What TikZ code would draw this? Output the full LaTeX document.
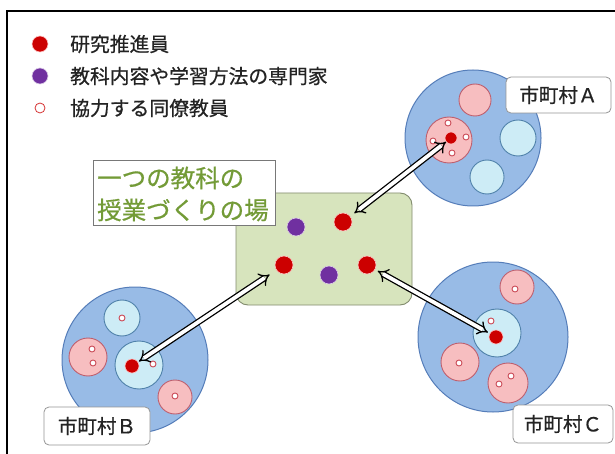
\documentclass[tikz,border=0pt]{standalone}
\usepackage{fontspec}
\setmainfont{Noto Sans CJK JP}[FakeBold=0.6]
\usetikzlibrary{arrows.meta}
\definecolor{bigfill}{RGB}{152,187,230}
\definecolor{bigline}{RGB}{85,125,185}
\definecolor{pinkfill}{RGB}{247,190,192}
\definecolor{pinkline}{RGB}{190,95,110}
\definecolor{cyanfill}{RGB}{205,236,246}
\definecolor{cyanline}{RGB}{80,130,170}
\definecolor{reddot}{RGB}{204,0,0}
\definecolor{purpdot}{RGB}{112,48,160}
\definecolor{greenfill}{RGB}{215,228,189}
\definecolor{greenline}{RGB}{130,140,110}
\definecolor{greentext}{RGB}{115,155,55}
\definecolor{labline}{RGB}{150,150,150}
\definecolor{txt}{RGB}{35,35,35}
\tikzset{
  bigc/.style={circle, draw=bigline, fill=bigfill, line width=1pt, inner sep=0pt},
  pinkc/.style={circle, draw=pinkline, fill=pinkfill, line width=0.9pt, inner sep=0pt},
  cyanc/.style={circle, draw=cyanline, fill=cyanfill, line width=0.9pt, inner sep=0pt},
  sm/.style={circle, draw=pinkline!80!red, fill=white, line width=0.9pt, inner sep=0pt, minimum size=6pt},
  rdot/.style={circle, fill=reddot, draw=red!25, line width=0.6pt, inner sep=0pt, minimum size=#1},
  pdot/.style={circle, fill=purpdot, draw=purpdot!25, line width=0.6pt, inner sep=0pt, minimum size=18pt},
  lab/.style={draw=labline, fill=white, rounded corners=5pt, line width=0.8pt, inner sep=0pt,
    font=\fontsize{19.5}{22}\selectfont, text=txt},
  leg/.style={anchor=west, inner sep=0pt, font=\fontsize{19.8}{22}\selectfont, text=txt},
  dbl/.style={draw=black, line width=1.3pt, double=white, double distance=3.8pt, arrows={Implies-Implies}},
}
\begin{document}
\begin{tikzpicture}[x=1pt,y=-1pt]
\useasboundingbox (0,0) rectangle (615,454);
\fill[white] (0,0) rectangle (615,454);
\draw[line width=1.6pt] (615,11) -- (7,11) -- (7,454);

% legend
\node[rdot=16pt] (lr) at (40,44) {};
\node[leg] (lt1) at (70,44) {研究推進員};
\node[pdot, minimum size=16pt] (lp) at (40,76) {};
\node[leg] (lt2) at (70,76) {教科内容や学習方法の専門家};
\node[circle, draw=reddot!80, fill=white, line width=0.8pt, minimum size=10pt, inner sep=0pt] (lc) at (40,108) {};
\node[leg] (lt3) at (70,108) {協力する同僚教員};

% municipality A
\node[bigc, minimum size=136pt] (A) at (473,138) {};
\node[pinkc, minimum size=32pt] (A1) at (475,100) {};
\node[pinkc, minimum size=46pt] (A2) at (449,140) {};
\node[cyanc, minimum size=36pt] (A3) at (518,138) {};
\node[cyanc, minimum size=34pt] (A4) at (487,177) {};
\node[sm] (a1) at (448,123) {};
\node[sm] (a2) at (466,137) {};
\node[sm] (a3) at (433,141) {};
\node[sm] (a4) at (452,153) {};
\node[rdot=12pt] (ra) at (451,138) {};
\node[lab, minimum width=105pt, minimum height=36pt] (LA) at (558.5,95) {市町村Ａ};

% municipality B
\node[bigc, minimum size=146pt] (B) at (135,360) {};
\node[cyanc, minimum size=36pt] (B1) at (122,318) {};
\node[pinkc, minimum size=38pt] (B2) at (88,357) {};
\node[cyanc, minimum size=48pt] (B3) at (139,365) {};
\node[pinkc, minimum size=34pt] (B4) at (175,397) {};
\node[sm] (b1) at (122,318) {};
\node[sm] (b2) at (92,349) {};
\node[sm] (b3) at (93,363) {};
\node[sm] (b4) at (153,364) {};
\node[sm] (b5) at (175,396) {};
\node[rdot=14pt] (rb) at (132,366) {};
\node[lab, minimum width=106pt, minimum height=38pt] (LB) at (97,426) {市町村Ｂ};

% municipality C
\node[bigc, minimum size=150pt] (C) at (493,337) {};
\node[pinkc, minimum size=34pt] (C1) at (517,287) {};
\node[cyanc, minimum size=48pt] (C2) at (497,333) {};
\node[pinkc, minimum size=38pt] (C3) at (460,362) {};
\node[pinkc, minimum size=40pt] (C4) at (508,383) {};
\node[sm] (c1) at (515,289) {};
\node[sm] (c2) at (491,321) {};
\node[sm] (c3) at (459,363) {};
\node[sm] (c4) at (499,384) {};
\node[sm] (c5) at (511,376) {};
\node[rdot=14pt] (rc) at (496,337) {};
\node[lab, minimum width=100pt, minimum height=38pt] (LC) at (563,424) {市町村Ｃ};

% central place
\node[draw=greenline, fill=greenfill, rounded corners=12pt, line width=0.9pt,
      minimum width=176pt, minimum height=112pt, inner sep=0pt] (G) at (324,249) {};
\node[pdot] (p1) at (296,227) {};
\node[rdot=18pt] (r1) at (343,222) {};
\node[rdot=18pt] (r2) at (284,265) {};
\node[pdot] (p2) at (329,275) {};
\node[rdot=18pt] (r3) at (367,265) {};
\node[draw=labline!80!black, fill=white, line width=0.9pt, minimum width=182pt, minimum height=65pt,
      inner sep=0pt] (T) at (184,192.5) {};
\node[anchor=west, align=left, inner sep=0pt, text=greentext,
      font=\fontsize{24.5}{32}\selectfont] (Tt) at (97,194) {一つの教科の\\授業づくりの場};

% arrows
\draw[dbl, shorten <=5pt] (r1) -- (ra);
\draw[dbl, shorten <=8pt, shorten >=1pt] (r2) -- (rb);
\draw[dbl, shorten <=3pt, shorten >=2pt] (r3) -- (rc);
\end{tikzpicture}
\end{document}
